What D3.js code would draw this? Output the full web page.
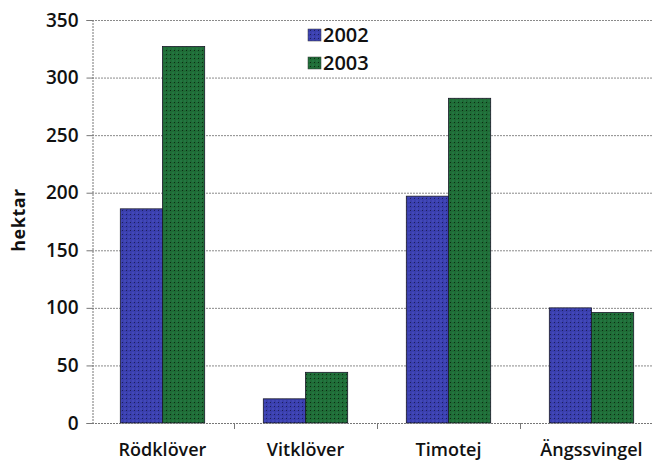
<!DOCTYPE html>
<html><head><meta charset="utf-8">
<script src="https://cdn.jsdelivr.net/npm/d3@7/dist/d3.min.js"></script>
<style>body{margin:0;background:#fff}svg{display:block}</style>
</head><body><svg id="c" width="652" height="461"></svg>
<script>
const categories = ["Rödklöver", "Vitklöver", "Timotej", "Ängssvingel"];
const seriesNames = ["2002", "2003"];
const values2002 = [186, 21, 197, 100];
const values2003 = [327, 44, 282, 96];
const yTicks = [0, 50, 100, 150, 200, 250, 300, 350];

(function () {
const svg = d3.select("#c");
const mLeft = 92, mRight = 652, mTop = 20, mBottom = 423;
const y = d3.scaleLinear().domain([0, 350]).range([mBottom, mTop]);
const x = d3.scaleBand().domain(categories).range([91, 663]).paddingInner(0.41).paddingOuter(0.205);
const xs = d3.scaleBand().domain(seriesNames).range([0, x.bandwidth()]);

const defs = svg.append("defs");
function pat(id, base, dot, light) {
  const p = defs.append("pattern").attr("id", id).attr("width", 4).attr("height", 4).attr("patternUnits", "userSpaceOnUse");
  p.append("rect").attr("width", 4).attr("height", 4).attr("fill", base);
  p.append("rect").attr("x", 0).attr("y", 0).attr("width", 2).attr("height", 2).attr("fill", light);
  p.append("rect").attr("x", 2).attr("y", 2).attr("width", 1).attr("height", 1).attr("fill", dot);
}
pat("pb", "#3a3fae", "#1c1f5a", "#4248b8");
pat("pg", "#1f6c36", "#0b2a14", "#237540");
const fills = {"2002": "url(#pb)", "2003": "url(#pg)"};

// gridlines
svg.append("g").selectAll("line").data(yTicks.filter(d => d > 0)).join("line")
  .attr("x1", mLeft).attr("x2", mRight).attr("y1", d => y(d) + 0.5).attr("y2", d => y(d) + 0.5)
  .attr("stroke", "#8a8a8a").attr("stroke-width", 1).attr("stroke-dasharray", "2,1");

// y axis
const yAxis = svg.append("g").attr("transform", `translate(${mLeft + 0.5},0)`)
  .call(d3.axisLeft(y).tickValues(yTicks).tickSize(6).tickPadding(8));
yAxis.select(".domain").attr("stroke", "#777").attr("stroke-dasharray", "2,1");
yAxis.selectAll(".tick line").attr("stroke", "#777");
yAxis.selectAll("text").attr("font-family", "Open Sans").attr("font-weight", 600)
  .attr("font-size", 19).attr("fill", "#111");

// bars
const data = categories.map((c, i) => ({c, v: {"2002": values2002[i], "2003": values2003[i]}}));
const g = svg.append("g");
data.forEach(d => {
  seriesNames.forEach(s => {
    g.append("rect")
      .attr("x", x(d.c) + xs(s)).attr("y", y(d.v[s]))
      .attr("width", xs.bandwidth()).attr("height", mBottom - y(d.v[s]))
      .attr("fill", fills[s]).attr("stroke", "#1a1a2a").attr("stroke-width", 0.8);
  });
});

// x axis
svg.append("line").attr("x1", mLeft).attr("x2", mRight).attr("y1", mBottom + 0.5).attr("y2", mBottom + 0.5)
  .attr("stroke", "#777").attr("stroke-dasharray", "2,1");
const sep = categories.slice(0, -1).map(c => x(c) + x.bandwidth() + x.step() * x.paddingInner() / 2);
svg.append("g").selectAll("line").data(sep).join("line")
  .attr("x1", d => Math.round(d) + 0.5).attr("x2", d => Math.round(d) + 0.5)
  .attr("y1", mBottom).attr("y2", mBottom + 6).attr("stroke", "#777");
svg.append("g").selectAll("text").data(categories).join("text")
  .attr("x", d => x(d) + x.bandwidth() / 2).attr("y", 456)
  .attr("text-anchor", "middle").attr("font-family", "Open Sans").attr("font-weight", 600)
  .attr("font-size", 18).attr("fill", "#111").text(d => d);

// y label
svg.append("text").attr("transform", "translate(25,220) rotate(-90)")
  .attr("text-anchor", "middle").attr("font-family", "Open Sans").attr("font-weight", 700)
  .attr("font-size", 18).attr("letter-spacing", 0.5).attr("fill", "#111").text("hektar");

// legend
const lg = svg.append("g");
seriesNames.forEach((s, i) => {
  lg.append("rect").attr("x", 308).attr("y", 29 + i * 28).attr("width", 13).attr("height", 12)
    .attr("fill", fills[s]).attr("stroke", "#333").attr("stroke-width", 0.5);
  lg.append("text").attr("x", 323).attr("y", 42 + i * 28).attr("font-family", "Open Sans")
    .attr("font-weight", 600).attr("font-size", 20).attr("fill", "#111").text(s);
});
})();
</script></body></html>
